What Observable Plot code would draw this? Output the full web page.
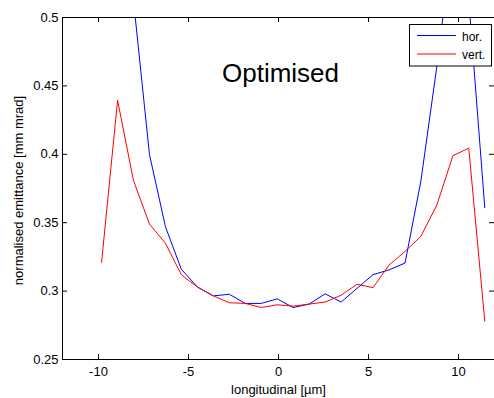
<!DOCTYPE html>
<html>
<head>
<meta charset="utf-8">
<script src="https://cdn.jsdelivr.net/npm/d3@7"></script>
<script src="https://cdn.jsdelivr.net/npm/@observablehq/plot@0.6"></script>
<style>
  html, body { margin: 0; padding: 0; background: #fff; }
  #chart svg { display: block; }
</style>
</head>
<body>
<div id="chart"></div>
<script>
// longitudinal positions [µm]
const positions = [-9.83, -8.94, -8.06, -7.17, -6.28, -5.40, -4.51, -3.62, -2.73, -1.85, -0.96, -0.07, 0.82,
                   1.70, 2.59, 3.48, 4.36, 5.25, 6.14, 7.03, 7.91, 8.80, 9.69, 10.57, 11.46];
// normalised emittance [mm mrad]
const horValues = [0.70, 0.62, 0.513, 0.400, 0.347, 0.316, 0.303, 0.2965, 0.2977, 0.291, 0.291, 0.2943, 0.288,
                   0.2905, 0.298, 0.292, 0.302, 0.312, 0.3155, 0.3205, 0.3804, 0.4645, 0.56, 0.513, 0.361];
const vertValues = [0.321, 0.4395, 0.381, 0.349, 0.335, 0.312, 0.303, 0.2965, 0.2915, 0.291, 0.288, 0.290, 0.289,
                    0.2905, 0.292, 0.297, 0.305, 0.3025, 0.319, 0.329, 0.340, 0.363, 0.399, 0.4045, 0.278];
const xTicks = [-10, -5, 0, 5, 10];
const yTicks = [0.25, 0.3, 0.35, 0.4, 0.45, 0.5];
const xDomain = [-12, 12];
const yDomain = [0.25, 0.5];
const seriesNames = ["hor.", "vert."];
const seriesColors = ["#0000ff", "#ff0000"];
const titleText = "Optimised";
const xLabel = "longitudinal [µm]";
const yLabel = "normalised emittance [mm mrad]";

const rows = positions.map((z, i) => ({z, hor: horValues[i], vert: vertValues[i]}));

const W = 494, H = 398;
const mL = 62, mR = 0, mT = 17, mB = 39;
// tick lengths in data units (≈5px)
const tkY = (yDomain[1] - yDomain[0]) * 5 / (H - mT - mB);
const tkX = (xDomain[1] - xDomain[0]) * 5 / (W - mL - mR);
const font = "'Liberation Sans', Arial, Helvetica, sans-serif";

const plot = Plot.plot({
  width: W, height: H,
  marginLeft: mL, marginRight: mR, marginTop: mT, marginBottom: mB,
  style: {fontFamily: font, fontSize: "13px", color: "#000", background: "#fff"},
  x: {domain: xDomain},
  y: {domain: yDomain},
  marks: [
    Plot.line(rows, {x: "z", y: "hor", stroke: seriesColors[0], strokeWidth: 1, clip: true}),
    Plot.line(rows, {x: "z", y: "vert", stroke: seriesColors[1], strokeWidth: 1, clip: true}),
    // box
    Plot.ruleY([yDomain[1]], {stroke: "#000", strokeWidth: 1}),
    Plot.ruleY([yDomain[0]], {stroke: "#000", strokeWidth: 1}),
    Plot.ruleX([xDomain[0]], {stroke: "#000", strokeWidth: 1}),
    // inward ticks
    Plot.ruleX(xTicks, {x: d => d, y1: yDomain[0], y2: yDomain[0] + tkY, stroke: "#000"}),
    Plot.ruleX(xTicks, {x: d => d, y1: yDomain[1] - tkY, y2: yDomain[1], stroke: "#000"}),
    Plot.ruleY(yTicks, {y: d => d, x1: xDomain[0], x2: xDomain[0] + tkX, stroke: "#000"}),
    Plot.ruleY(yTicks, {y: d => d, x1: xDomain[1] - tkX, x2: xDomain[1], stroke: "#000"}),
    Plot.axisX(xTicks, {tickSize: 0, tickPadding: 7, tickFormat: d => String(d), fontSize: 13, label: null}),
    Plot.axisY(yTicks, {tickSize: 0, tickPadding: 4, tickFormat: d => String(d), fontSize: 13, label: null}),
    Plot.text([xLabel], {frameAnchor: "bottom", textAnchor: "middle", lineAnchor: "top", dy: 25, fontSize: 13, fill: "#000"}),
    Plot.text([yLabel], {frameAnchor: "left", textAnchor: "middle", rotate: -90, dx: -44, dy: 2, fontSize: 13, fill: "#000"}),
    Plot.text([titleText], {frameAnchor: "top", textAnchor: "middle", lineAnchor: "top", dy: 46.5, dx: 2, fontSize: 26, fill: "#000"})
  ]
});

// legend drawn on top of the plot area
const svg = d3.select(plot);
const lg = svg.append("g").attr("font-family", font).attr("font-size", 12).attr("text-anchor", "start");
lg.append("rect").attr("x", 409.5).attr("y", 24.5).attr("width", 82).attr("height", 41.5)
  .style("fill", "#fff").style("stroke", "#000").style("stroke-width", "1px");
seriesNames.forEach((name, i) => {
  const yy = 35.5 + i * 18.5;
  lg.append("line").attr("x1", 417).attr("x2", 456).attr("y1", yy).attr("y2", yy)
    .style("stroke", seriesColors[i]).style("stroke-width", "1px");
  lg.append("text").attr("x", 462).attr("y", yy + 5).attr("text-anchor", "start")
    .style("fill", "#000").text(name);
});

document.getElementById("chart").appendChild(plot);
</script>
</body>
</html>
